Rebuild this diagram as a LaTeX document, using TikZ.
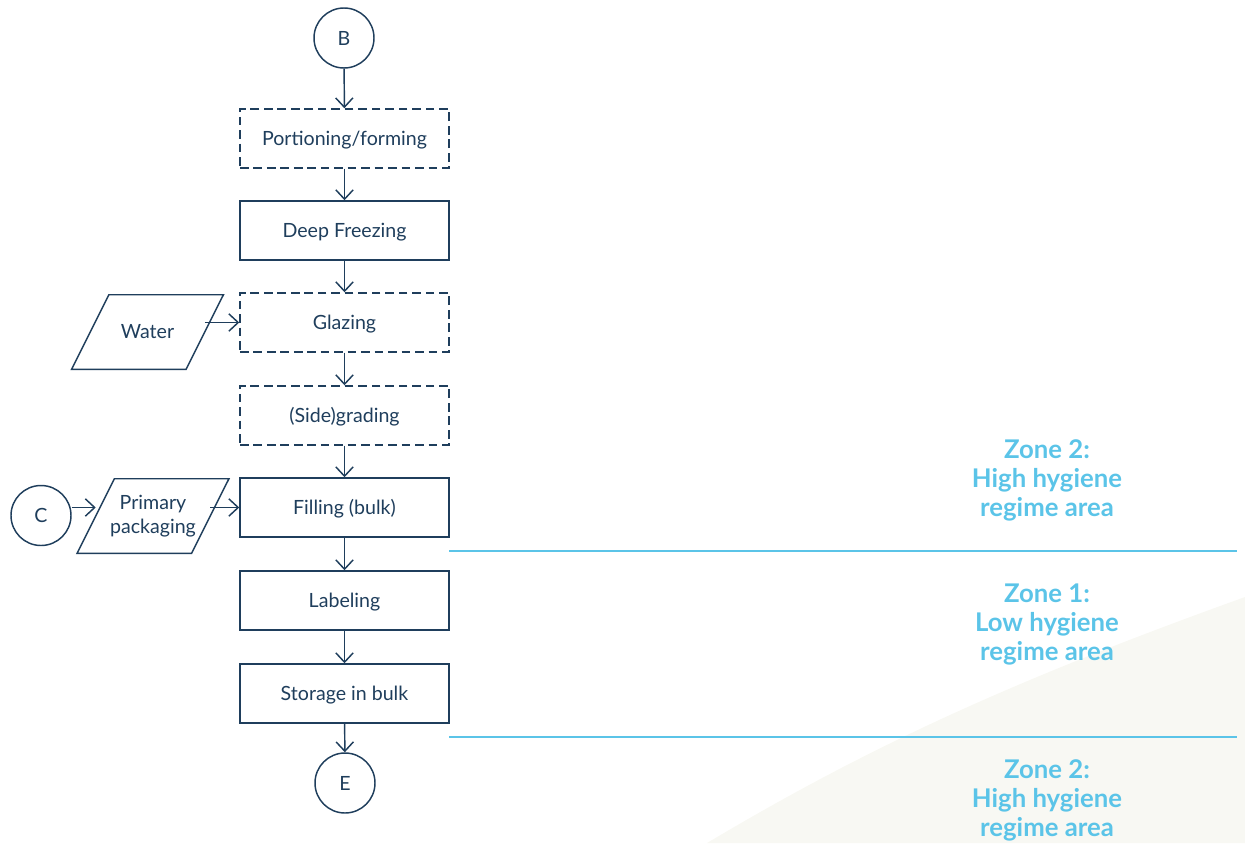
\documentclass[tikz,border=0pt]{standalone}
\usepackage{fontspec}
\setmainfont{Lato}
\usepackage{xcolor}
\usetikzlibrary{arrows.meta}

\definecolor{navy}{HTML}{1F3E5C}
\definecolor{zoneblue}{HTML}{5BC4E8}
\definecolor{paper}{HTML}{F8F8F3}

\begin{document}
\begin{tikzpicture}[x=0.75pt,y=-0.75pt,
	procbox/.style={draw=navy, line width=1.1pt, text=navy, font=\fontsize{14.7}{17.5}\selectfont,
		minimum width=156.75pt, minimum height=44.25pt, inner sep=0pt, text height=10.5pt, text depth=0pt},
	optbox/.style={procbox, dash pattern=on 6.5pt off 3.6pt},
	inbox/.style={text=navy, font=\fontsize{14.7}{17.5}\selectfont,
		minimum width=85.5pt, minimum height=55.5pt, inner sep=0pt, align=center},
	inline/.style={draw=navy, line width=1.1pt, line join=miter},
	conn/.style={circle, draw=navy, line width=1.1pt, text=navy, font=\fontsize{14.7}{17.5}\selectfont,
		minimum size=45pt, inner sep=0pt, text height=10.5pt, text depth=0pt},
	arr/.style={draw=navy, line width=1.1pt, -{Straight Barb[length=7pt,width=13pt]}},
	zoneline/.style={draw=zoneblue, line width=1.1pt},
	zonetext/.style={text=zoneblue, font=\fontsize{19.3}{21.75}\selectfont\bfseries, align=center}]
			%\draw[help lines] (0,0) grid (1245,843);
			\useasboundingbox (0,0) rectangle (1245,843);
			
			% background
			\fill[paper] (707,843) .. controls (860,752) and (1000,685) .. (1245,597) -- (1245,843) -- cycle;
			
			\node[conn] (B) at (344,38) {B};
			\node[optbox] (1) at (344.5,138.5) {Portioning/forming};
			\node[procbox] (2) at (344.5,230.5) {Deep Freezing};
			\node[optbox] (3) at (344.5,322.5) {Glazing};
			\node[optbox] (4) at (344.5,415.5) {(Side)grading};
			\node[procbox] (5) at (344.5,507.5) {Filling (bulk)};
			\node[procbox] (6) at (344.5,600.5) {Labeling};
			\node[procbox] (7) at (344.5,693.5) {Storage in bulk};
			\node[conn] (E) at (345,783) {E};
			
			\node[inbox] (water) at (147.5,332) {Water};
			\node[inbox] (pack) at (153,516) {Primary\\packaging};
			\node[conn] (C) at (41,515.5) {C};
			
			% parallelogram outlines
			\foreach \n in {water,pack}
				\draw[inline] ([xshift=-14pt]\n.south west) -- ([xshift=14pt]\n.north west)
					-- ([xshift=14pt]\n.north east) -- ([xshift=-14pt]\n.south east) -- cycle;
			
			\path[arr]
			(B) edge (1)
			(1) edge (2)
			(2) edge (3)
			(3) edge (4)
			(4) edge (5)
			(5) edge (6)
			(6) edge (7)
			(7) edge (E);
			
			\draw[arr] (water.east |- 3.west) -- (3.west);
			\draw[arr] (C.east |- 5.west) -- (pack.west |- 5.west);
			\draw[arr] (pack.east |- 5.west) -- (5.west);
			
			% zones
			\coordinate (z1) at (449,551);
			\coordinate (z1e) at (1237,551);
			\coordinate (z2) at (449,737);
			\coordinate (z2e) at (1237,737);
			\draw[zoneline] (z1) -- (z1e);
			\draw[zoneline] (z2) -- (z2e);
			
			\node[zonetext] (zoneA) at (1047,480) {Zone 2:\\High hygiene\\regime area};
			\node[zonetext] (zoneB) at (1047,624) {Zone 1:\\Low hygiene\\regime area};
			\node[zonetext] (zoneC) at (1047,800) {Zone 2:\\High hygiene\\regime area};
			
			\end{tikzpicture}
\end{document}
